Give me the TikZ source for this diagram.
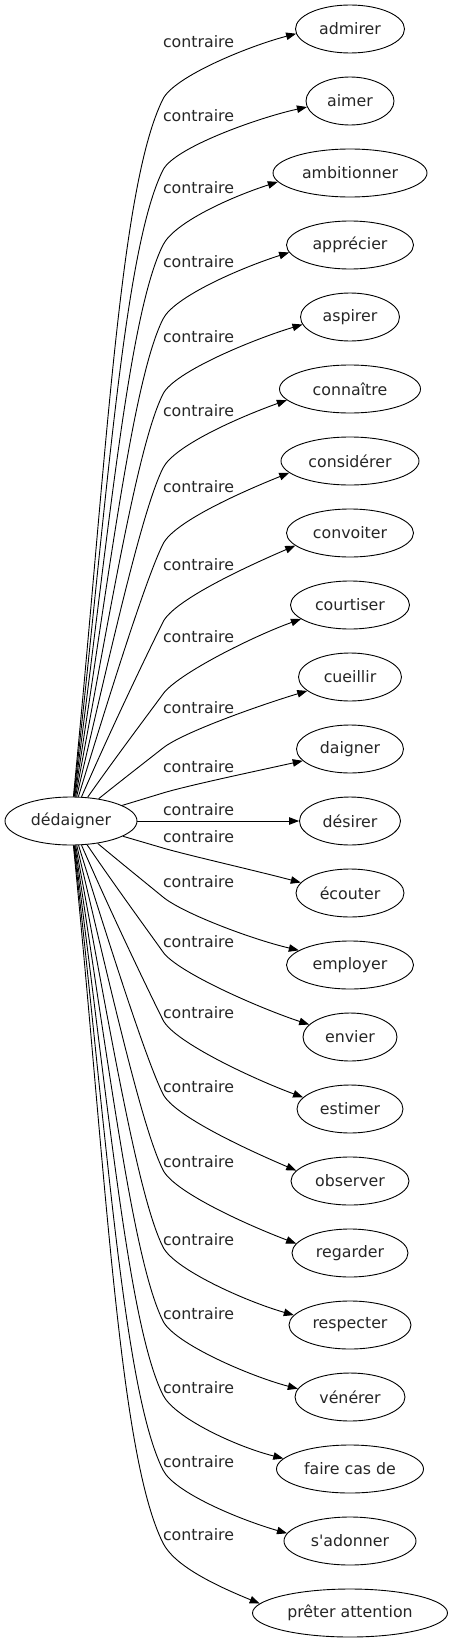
\documentclass[tikz,border=0pt]{standalone}
\usepackage{fontspec}
\setmainfont{DejaVu Sans}[Ligatures=TeXOff]
\usetikzlibrary{shapes.geometric,arrows.meta,calc}
\begin{document}
\begin{tikzpicture}[x=1pt,y=-1pt,
  every node/.style={font=\fontsize{15.8}{18}\selectfont, inner sep=0pt, text=black!85},
  word/.style={draw=black, ellipse, line width=0.9pt, minimum height=48pt},
  lbl/.style={},
  edge/.style={draw=black, line width=0.9pt, -{Triangle[length=10pt,width=7.5pt]}},
]
\useasboundingbox (0,0) rectangle (452,1643);
\node[word, minimum width=132pt] (dd) at (71,821) {dédaigner};
\node[word, minimum width=101pt] (n11) at (350,821) {désirer};
\node[lbl] (ln11) at (198.5,810) {contraire};
\draw[edge] (dd) -- (n11);
\foreach \nm/\txt/\ty/\ly/\wid/\pa/\pb/\ang in {
 n0/admirer/29/42/109/99/50/185,
 n1/aimer/101/116/88/170/123/188,
 n2/ambitionner/173/188/154/245/196/187,
 n3/apprécier/245/262/127/319/270/187,
 n4/aspirer/317/337/99/394/345/189,
 n5/connaître/389/411/141/468/419/190,
 n6/considérer/461/487/138/544/495/191,
 n7/convoiter/533/565/127/622/572/193,
 n8/courtiser/605/637/119/694/643/196,
 n9/cueillir/677/708/103/748/713/198,
 n10/daigner/749/767/107/793/776/194,
 n12/écouter/893/837/108/848/865/168,
 n13/employer/965/882/127/897/935/164,
 n14/envier/1037/942/94/952/1000/163,
 n15/estimer/1109/1013/106/1020/1072/166,
 n16/observer/1181/1087/118/1094/1144/169,
 n17/regarder/1253/1162/116/1170/1220/170,
 n18/respecter/1325/1240/122/1247/1298/170,
 n19/vénérer/1397/1314/110/1321/1372/171,
 n20/faire cas de/1469/1388/147/1395/1446/171,
 n21/s'adonner/1541/1462/132/1470/1518/173,
 n22/prêter attention/1613/1535/195/1543/1593/174}{
 \node[word, minimum width=\wid pt] (\nm) at (350,\ty) {\txt};
 \node[lbl] (l\nm) at (198.5,\ly) {contraire};
 \pgfmathsetmacro\dir{ifthenelse(\pa<821,-1,1)}
 \pgfmathsetmacro\D{abs(\pa-821)-24}
 \pgfmathsetmacro\ch{92/abs(\pa-821)}
 \pgfmathsetmacro\ta{max(\ch,0.5)}
 \pgfmathsetmacro\tn{sqrt(\ta*\ta+1)}
 \pgfmathsetmacro\ux{\ta/\tn}
 \pgfmathsetmacro\uy{\dir/\tn}
 \pgfmathsetmacro\cax{117-0.015*\D}
 \pgfmathsetmacro\cay{(821+\pa)/2}
 \pgfmathsetmacro\hh{0.14*\D}
 \pgfmathsetmacro\cbx{163-\hh*\ux}
 \pgfmathsetmacro\cby{\pa-\hh*\uy}
 \pgfmathsetmacro\ccx{163+25*\ux}
 \pgfmathsetmacro\ccy{\pa+25*\uy}
 \draw[edge] (dd) .. controls (\cax,\cay) and (\cbx,\cby) .. (163,\pa)
   .. controls (\ccx,\ccy) and ($(\nm.\ang)!50pt!(234,\pb)$) .. (\nm.\ang);
}
\end{tikzpicture}
\end{document}
